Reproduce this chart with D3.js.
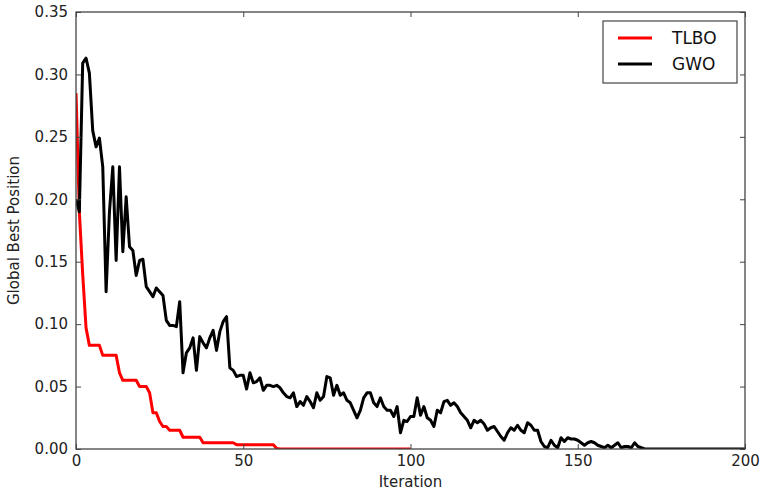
<!DOCTYPE html>
<html>
<head>
<meta charset="utf-8">
<script src="https://cdn.jsdelivr.net/npm/d3@7"></script>
<style>
  body { margin: 0; background: #fff; }
  svg { display: block; }
  text { font-family: "DejaVu Sans", sans-serif; }
</style>
</head>
<body>
<script>
// iterations 0..200 for GWO, 0..100 for TLBO
const gwo = [
  0.20, 0.19, 0.309, 0.313, 0.301, 0.255, 0.242, 0.249, 0.226, 0.126,
  0.19, 0.226, 0.151, 0.226, 0.158, 0.202, 0.162, 0.159, 0.139, 0.151,
  0.152, 0.130, 0.126, 0.122, 0.129, 0.126, 0.123, 0.103, 0.099, 0.099,
  0.098, 0.118, 0.061, 0.077, 0.081, 0.089, 0.063, 0.090, 0.085, 0.081,
  0.089, 0.095, 0.079, 0.094, 0.102, 0.106, 0.065, 0.063, 0.058, 0.059,
  0.059, 0.048, 0.061, 0.053, 0.054, 0.057, 0.047, 0.051, 0.051, 0.050,
  0.051, 0.049, 0.045, 0.042, 0.041, 0.045, 0.034, 0.038, 0.035, 0.042,
  0.038, 0.033, 0.045, 0.039, 0.042, 0.058, 0.057, 0.043, 0.051, 0.043,
  0.045, 0.039, 0.037, 0.031, 0.025, 0.031, 0.041, 0.045, 0.045, 0.037,
  0.034, 0.041, 0.034, 0.031, 0.031, 0.026, 0.034, 0.013, 0.023, 0.022,
  0.026, 0.026, 0.041, 0.027, 0.034, 0.025, 0.023, 0.018, 0.031, 0.029,
  0.038, 0.039, 0.035, 0.037, 0.034, 0.029, 0.026, 0.023, 0.017, 0.023,
  0.021, 0.023, 0.020, 0.015, 0.017, 0.018, 0.014, 0.010, 0.007, 0.013,
  0.017, 0.015, 0.019, 0.015, 0.013, 0.021, 0.019, 0.015, 0.015, 0.006,
  0.002, 0.001, 0.007, 0.003, 0.001, 0.009, 0.006, 0.009, 0.008, 0.008,
  0.007, 0.005, 0.003, 0.005, 0.006, 0.005, 0.003, 0.002, 0.001, 0.003,
  0.001, 0.003, 0.005, 0.001, 0.002, 0.002, 0.001, 0.005, 0.002, 0.001,
  0, 0, 0, 0, 0, 0, 0, 0, 0, 0,
  0, 0, 0, 0, 0, 0, 0, 0, 0, 0,
  0, 0, 0, 0, 0, 0, 0, 0, 0, 0,
  0
];

const tlbo = [
  0.285, 0.19, 0.14, 0.097, 0.083, 0.083, 0.083, 0.083, 0.075, 0.075,
  0.075, 0.075, 0.075, 0.061, 0.055, 0.055, 0.055, 0.055, 0.055, 0.050,
  0.050, 0.050, 0.045, 0.029, 0.029, 0.022, 0.018, 0.018, 0.015, 0.015,
  0.015, 0.015, 0.0094, 0.0094, 0.0094, 0.0094, 0.0094, 0.0094, 0.005, 0.005,
  0.005, 0.005, 0.005, 0.005, 0.005, 0.005, 0.005, 0.005, 0.0035, 0.0035,
  0.0035, 0.0035, 0.0035, 0.0035, 0.0035, 0.0035, 0.0035, 0.0035, 0.0035, 0.0035,
  0.0005, 0, 0, 0, 0, 0, 0, 0, 0, 0,
  0, 0, 0, 0, 0, 0, 0, 0, 0, 0,
  0, 0, 0, 0, 0, 0, 0, 0, 0, 0,
  0, 0, 0, 0, 0, 0, 0, 0, 0, 0,
  0
];

const seriesNames = ["TLBO", "GWO"];
const seriesColors = ["#ff0000", "#000000"];
const xTicks = [0, 50, 100, 150, 200];
const yTicks = [0, 0.05, 0.10, 0.15, 0.20, 0.25, 0.30, 0.35];

const width = 763, height = 491;
const margin = {left: 76, right: 18, top: 12, bottom: 42};

const svg = d3.select("body").append("svg")
  .attr("width", width)
  .attr("height", height);

const x = d3.scaleLinear().domain([0, 200]).range([margin.left, width - margin.right]);
const y = d3.scaleLinear().domain([0, 0.35]).range([height - margin.bottom, margin.top]);

const line = d3.line()
  .x((d, i) => x(i))
  .y(d => y(d));

// clip so lines on the axis stay inside
svg.append("clipPath").attr("id", "clip")
  .append("rect")
  .attr("x", margin.left).attr("y", margin.top)
  .attr("width", x(200) - x(0)).attr("height", y(0) - y(0.35));

const plot = svg.append("g").attr("clip-path", "url(#clip)");

// TLBO first, GWO drawn over it
[tlbo, gwo].forEach((s, i) => {
  plot.append("path")
    .datum(s)
    .attr("d", line)
    .attr("fill", "none")
    .attr("stroke", seriesColors[i])
    .attr("stroke-width", 3)
    .attr("stroke-linejoin", "round");
});

// frame
svg.append("rect")
  .attr("x", x(0)).attr("y", y(0.35))
  .attr("width", x(200) - x(0)).attr("height", y(0) - y(0.35))
  .attr("fill", "none")
  .attr("stroke", "#444")
  .attr("stroke-width", 1.3);

const fmtY = d3.format(".2f");

const xAxis = svg.append("g")
  .attr("transform", `translate(0,${y(0)})`)
  .call(d3.axisBottom(x).tickValues(xTicks).tickSize(-5).tickPadding(6));
const xTop = svg.append("g")
  .attr("transform", `translate(0,${y(0.35)})`)
  .call(d3.axisTop(x).tickValues(xTicks).tickSize(-5).tickFormat(""));
const yAxis = svg.append("g")
  .attr("transform", `translate(${x(0)},0)`)
  .call(d3.axisLeft(y).tickValues(yTicks).tickFormat(fmtY).tickSize(-5).tickPadding(8));
const yRight = svg.append("g")
  .attr("transform", `translate(${x(200)},0)`)
  .call(d3.axisRight(y).tickValues(yTicks).tickSize(-5).tickFormat(""));

[xAxis, xTop, yAxis, yRight].forEach(g => {
  g.select(".domain").remove();
  g.selectAll(".tick line").attr("stroke", "#444");
  g.selectAll("text")
    .attr("font-size", 15)
    .attr("fill", "#222")
    .style("font-family", "DejaVu Sans");
});

svg.append("text")
  .attr("x", (x(0) + x(200)) / 2)
  .attr("y", 487)
  .attr("text-anchor", "middle")
  .attr("font-size", 15)
  .attr("fill", "#222")
  .text("Iteration");

svg.append("text")
  .attr("transform", `translate(19,${(y(0) + y(0.35)) / 2}) rotate(-90)`)
  .attr("text-anchor", "middle")
  .attr("font-size", 15)
  .attr("fill", "#222")
  .text("Global Best Position");

// legend
const legend = svg.append("g").attr("transform", "translate(603,21)");
legend.append("rect")
  .attr("width", 134).attr("height", 62)
  .attr("fill", "#fff")
  .attr("stroke", "#444")
  .attr("stroke-width", 1.2);

seriesNames.forEach((name, i) => {
  const yy = 17 + i * 26;
  legend.append("line")
    .attr("x1", 15).attr("x2", 49)
    .attr("y1", yy).attr("y2", yy)
    .attr("stroke", seriesColors[i])
    .attr("stroke-width", 3);
  legend.append("text")
    .attr("x", 69).attr("y", yy + 6)
    .attr("font-size", 17)
    .attr("fill", "#111")
    .text(name);
});
</script>
</body>
</html>
